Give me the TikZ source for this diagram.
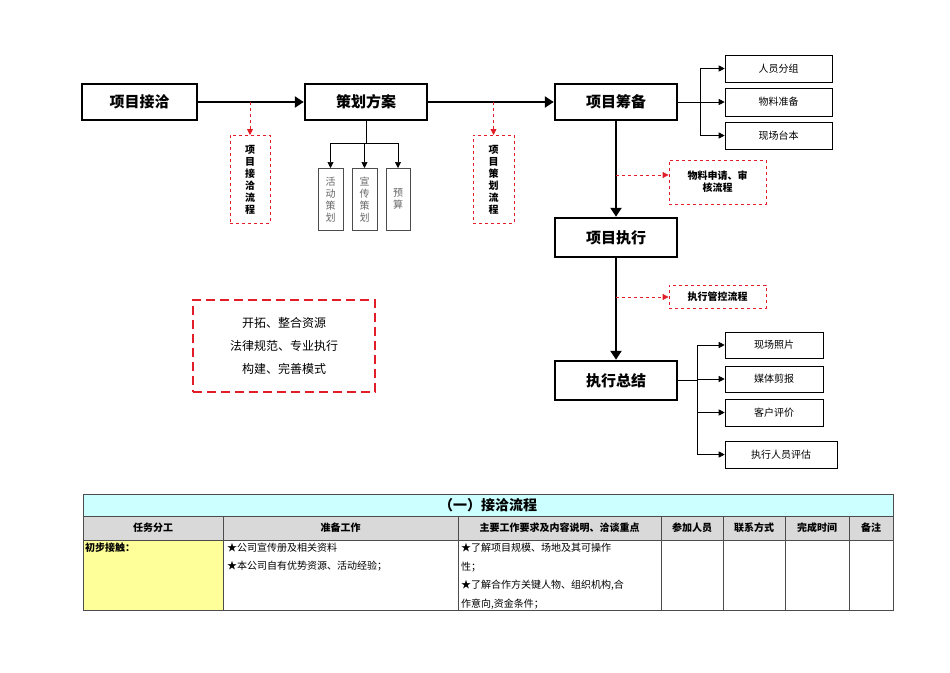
\documentclass[tikz,border=0pt]{standalone}
\usepackage{fontspec}
\setmainfont{Noto Sans CJK SC}
\usetikzlibrary{arrows.meta}
\definecolor{flowred}{RGB}{225,30,40}
\definecolor{titlecyan}{RGB}{204,255,255}
\definecolor{headgray}{RGB}{217,217,217}
\definecolor{noteyellow}{RGB}{255,255,153}
\tikzset{
  mainbox/.style={draw,line width=2.5pt,font=\fontsize{15}{17}\selectfont\bfseries,inner sep=0pt},
  subbox/.style={draw,line width=0.6pt,font=\fontsize{10}{12}\selectfont,inner sep=0pt},
  redbox/.style={draw=flowred,dashed,line width=0.8pt,inner sep=0pt,font=\fontsize{10}{12}\selectfont\bfseries,align=center},
  thick arrow/.style={line width=2.5pt,-{Triangle[length=9pt,width=11pt]}},
  thin arrow/.style={line width=0.6pt,-{Triangle[length=6pt,width=6pt]}},
  red arrow/.style={draw=flowred,dashed,line width=0.8pt,-{Triangle[length=6pt,width=6pt]},color=flowred},
  cell/.style={font=\fontsize{10}{12}\selectfont,inner sep=2pt}
}
\begin{document}
\begin{tikzpicture}[x=1pt,y=-1pt]
  \useasboundingbox (0,0) rectangle (950,672);
  % main flow
  \node[mainbox,minimum width=115pt,minimum height=36pt] (contact) at (139.5,102) {项目接洽};
  \node[mainbox,minimum width=122pt,minimum height=36pt] (plan) at (366,102) {策划方案};
  \node[mainbox,minimum width=122pt,minimum height=36pt] (prep) at (616,102) {项目筹备};
  \node[mainbox,minimum width=122pt,minimum height=39pt] (exec) at (616,237.5) {项目执行};
  \node[mainbox,minimum width=122pt,minimum height=39pt] (summ) at (616,380.5) {执行总结};
  \draw[thick arrow] (contact) -- (plan);
  \draw[thick arrow] (plan) -- (prep);
  \draw[thick arrow] (prep) -- (exec);
  \draw[thick arrow] (exec) -- (summ);
  % preparation tasks
  \node[subbox,minimum width=107pt,minimum height=27pt] (group) at (778.5,68.5) {人员分组};
  \node[subbox,minimum width=107pt,minimum height=28pt] (stuff) at (778.5,102) {物料准备};
  \node[subbox,minimum width=107pt,minimum height=27pt] (script) at (778.5,135.5) {现场台本};
  \coordinate (pj) at (700,102);
  \draw[line width=0.6pt] (prep.east) -- (pj);
  \draw[line width=0.6pt] (pj |- group) -- (pj |- script);
  \foreach \b in {group,stuff,script} \draw[thin arrow] (pj |- \b) -- (\b.west);
  % summary tasks
  \node[subbox,minimum width=98pt,minimum height=26pt] (photo) at (774,345) {现场照片};
  \node[subbox,minimum width=98pt,minimum height=26pt] (media) at (774,379) {媒体剪报};
  \node[subbox,minimum width=98pt,minimum height=27pt] (client) at (774,412.5) {客户评价};
  \node[subbox,minimum width=112pt,minimum height=27pt] (staff) at (781,454.5) {执行人员评估};
  \coordinate (sj) at (697,380.5);
  \draw[line width=0.6pt] (summ.east) -- (sj);
  \draw[line width=0.6pt] (sj |- photo) -- (sj |- staff);
  \foreach \b in {photo,media,client,staff} \draw[thin arrow] (sj |- \b) -- (\b.west);
  % red process notes
  \node[redbox,minimum width=97pt,minimum height=44pt] (audit) at (717.5,182) {物料申请、审\\核流程};
  \node[redbox,minimum width=97pt,minimum height=23pt] (ctrl) at (717.5,296.5) {执行管控流程};
  \draw[red arrow] (616,175) -- (audit.west |- 0,175);
  \draw[red arrow] (616,297) -- (ctrl.west |- 0,297);
  \node[redbox,minimum width=40pt,minimum height=88pt,anchor=north] (cflow) at (250,135) {项\\目\\接\\洽\\流\\程};
  \node[redbox,minimum width=41pt,minimum height=88pt,anchor=north] (pflow) at (493.5,135) {项\\目\\策\\划\\流\\程};
  \draw[red arrow] (250,102) -- (cflow.north);
  \draw[red arrow] (493.5,102) -- (pflow.north);
  % plan items
  \node[subbox,draw=black!70,text=black!60,minimum width=25pt,minimum height=62pt,anchor=north,align=center] (act) at (330.5,168) {活\\动\\策\\划};
  \node[subbox,draw=black!70,text=black!60,minimum width=25pt,minimum height=62pt,anchor=north,align=center] (pub) at (364.5,168) {宣\\传\\策\\划};
  \node[subbox,draw=black!70,text=black!60,minimum width=24pt,minimum height=62pt,anchor=north,align=center] (budget) at (398,168) {预\\算};
  \coordinate (pb) at (366,143);
  \draw[line width=0.6pt] (plan.south) -- (pb);
  \draw[line width=0.6pt] (act |- pb) -- (budget |- pb);
  \foreach \b in {act,pub,budget} \draw[thin arrow] (\b |- pb) -- (\b.north);
  % motto
  \node[draw=flowred,dashed,line width=2.5pt,dash pattern=on 9pt off 5pt,minimum width=182pt,minimum height=92pt,align=center,
        font=\fontsize{12}{23}\selectfont] (motto) at (284,346) {开拓、整合资源\\法律规范、专业执行\\构建、完善模式};
  % table
  \fill[titlecyan] (83,494) rectangle (893,516);
  \fill[headgray] (83,516) rectangle (893,540);
  \fill[noteyellow] (83,540) rectangle (223,610);
  \draw[line width=0.5pt,black!70] (83,494) rectangle (893,610);
  \draw[line width=0.5pt,black!70] (83,516) -- (893,516) (83,540) -- (893,540);
  \foreach \x in {223,458,661,723,785,849} \draw[line width=0.5pt,black!70] (\x,516) -- (\x,610);
  \node[font=\fontsize{14}{16}\selectfont\bfseries] (ttl) at (488,505) {（一）接洽流程};
  \node[cell,font=\fontsize{10}{12}\selectfont\bfseries] (h1) at (153,528) {任务分工};
  \node[cell,font=\fontsize{10}{12}\selectfont\bfseries] (h2) at (340.5,528) {准备工作};
  \node[cell,font=\fontsize{10}{12}\selectfont\bfseries] (h3) at (559.5,528) {主要工作要求及内容说明、洽谈重点};
  \node[cell,font=\fontsize{10}{12}\selectfont\bfseries] (h4) at (692,528) {参加人员};
  \node[cell,font=\fontsize{10}{12}\selectfont\bfseries] (h5) at (754,528) {联系方式};
  \node[cell,font=\fontsize{10}{12}\selectfont\bfseries] (h6) at (817,528) {完成时间};
  \node[cell,font=\fontsize{10}{12}\selectfont\bfseries] (h7) at (871,528) {备注};
  \node[cell,anchor=north west,font=\fontsize{10}{12}\selectfont\bfseries] (c1) at (83,541) {初步接触：};
  \node[cell,anchor=north west,align=left,font=\fontsize{10}{18}\selectfont] (c2) at (225,541) {★公司宣传册及相关资料\\★本公司自有优势资源、活动经验；};
  \node[cell,anchor=north west,align=left,font=\fontsize{10}{18.5}\selectfont] (c3) at (459,541) {★了解项目规模、场地及其可操作\\性；\\★了解合作方关键人物、组织机构,合\\作意向,资金条件；};
\end{tikzpicture}
\end{document}
